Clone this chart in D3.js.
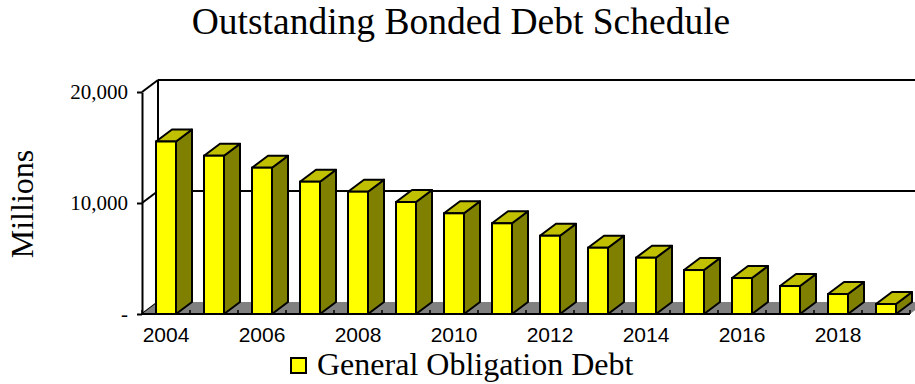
<!DOCTYPE html>
<html>
<head>
<meta charset="utf-8">
<script src="https://cdn.jsdelivr.net/npm/d3@7"></script>
<style>
  body { margin: 0; background: #fff; }
  svg { display: block; overflow: hidden; }
</style>
</head>
<body>
<svg id="chart" width="915" height="384"></svg>
<script>
const years = ["2004","2005","2006","2007","2008","2009","2010","2011","2012","2013","2014","2015","2016","2017","2018","2019"];
const debt = [15540, 14260, 13180, 11920, 11020, 10090, 9070, 8170, 7050, 5970, 5070, 3960, 3240, 2520, 1800, 900];
const yTicks = [0, 10000, 20000];
const xLabels = ["2004","2006","2008","2010","2012","2014","2016","2018"];

const plotLeft = 142, plotRight = 910, plotTop = 92, plotBottom = 314;
const dx = 16, dy = 12; // depth offset
const serif = "'Times New Roman', 'Liberation Serif', serif";
const sans = "Arial, 'Liberation Sans', sans-serif";

const svg = d3.select("#chart");

const x = d3.scaleBand()
  .domain(years)
  .range([plotLeft, plotRight])
  .paddingInner(28 / 48)
  .paddingOuter(14 / 48);

const y = d3.scaleLinear()
  .domain([0, 20000])
  .range([plotBottom, plotTop]);

// back wall + gridlines
const g = svg.append("g");
yTicks.forEach(t => {
  if (t > 0) {
    g.append("line")
      .attr("x1", plotLeft + dx).attr("x2", plotRight + dx + 20)
      .attr("y1", y(t) - dy).attr("y2", y(t) - dy)
      .attr("stroke", "#000").attr("stroke-width", 2);
  }
  g.append("line")
    .attr("x1", plotLeft).attr("y1", y(t))
    .attr("x2", plotLeft + dx).attr("y2", y(t) - dy)
    .attr("stroke", "#000").attr("stroke-width", 2);
});
g.append("line")
  .attr("x1", plotLeft + dx).attr("x2", plotLeft + dx)
  .attr("y1", y(20000) - dy).attr("y2", y(0) - dy)
  .attr("stroke", "#000").attr("stroke-width", 2);

// floor
g.append("polygon")
  .attr("points", [[plotLeft, plotBottom], [plotRight, plotBottom], [plotRight + dx, plotBottom - dy], [plotLeft + dx, plotBottom - dy]].join(" "))
  .attr("fill", "#808080");

// floor ticks at band boundaries
const step = x.step();
d3.range(years.length + 1).forEach(i => {
  const xx = plotLeft + i * step;
  g.append("line")
    .attr("x1", xx).attr("x2", xx)
    .attr("y1", plotBottom).attr("y2", plotBottom - 4)
    .attr("stroke", "#000").attr("stroke-width", 1.5);
});

// bars
const bw = x.bandwidth();
const bars = svg.append("g").selectAll("g")
  .data(years.map((yr, i) => ({ yr, v: debt[i] })))
  .join("g");

bars.append("polygon") // side
  .attr("points", d => {
    const x0 = x(d.yr), yt = y(d.v);
    return [[x0 + bw, yt], [x0 + bw + dx, yt - dy], [x0 + bw + dx, plotBottom - dy], [x0 + bw, plotBottom]].join(" ");
  })
  .attr("fill", "#808000").attr("stroke", "#000").attr("stroke-width", 2).attr("stroke-linejoin", "round");

bars.append("polygon") // top
  .attr("points", d => {
    const x0 = x(d.yr), yt = y(d.v);
    return [[x0, yt], [x0 + dx, yt - dy], [x0 + bw + dx, yt - dy], [x0 + bw, yt]].join(" ");
  })
  .attr("fill", "#c0c000").attr("stroke", "#000").attr("stroke-width", 2).attr("stroke-linejoin", "round");

bars.append("rect") // front
  .attr("x", d => x(d.yr))
  .attr("y", d => y(d.v))
  .attr("width", bw)
  .attr("height", d => plotBottom - y(d.v))
  .attr("fill", "#ffff00").attr("stroke", "#000").attr("stroke-width", 2);

// front baseline
svg.append("line")
  .attr("x1", plotLeft).attr("x2", plotRight)
  .attr("y1", plotBottom).attr("y2", plotBottom)
  .attr("stroke", "#000").attr("stroke-width", 2);

// y axis
const yAxis = svg.append("g")
  .attr("transform", `translate(${plotLeft},0)`)
  .call(d3.axisLeft(y)
    .tickValues(yTicks)
    .tickSize(5)
    .tickSizeOuter(0)
    .tickPadding(9)
    .tickFormat(d => d === 0 ? "-" : d3.format(",")(d)));
yAxis.select(".domain").attr("stroke-width", 2);
yAxis.selectAll(".tick line").attr("stroke-width", 2);
yAxis.selectAll("text")
  .attr("font-family", serif).attr("font-size", 21).attr("fill", "#000");

// x axis
const xAxis = svg.append("g")
  .attr("transform", `translate(0,${plotBottom})`)
  .call(d3.axisBottom(x).tickValues(xLabels).tickSize(0).tickPadding(13));
xAxis.select(".domain").remove();
xAxis.selectAll("text")
  .attr("font-family", sans).attr("font-size", 21).attr("fill", "#000");

// title
svg.append("text")
  .attr("x", 461).attr("y", 34)
  .attr("text-anchor", "middle")
  .attr("font-family", serif).attr("font-size", 37.5)
  .text("Outstanding Bonded Debt Schedule");

// y label
svg.append("text")
  .attr("transform", "translate(33,204) rotate(-90)")
  .attr("text-anchor", "middle")
  .attr("font-family", serif).attr("font-size", 32)
  .text("Millions");

// legend
svg.append("rect")
  .attr("x", 291).attr("y", 358).attr("width", 15).attr("height", 15)
  .attr("fill", "#ffff00").attr("stroke", "#000").attr("stroke-width", 2);
svg.append("text")
  .attr("x", 317).attr("y", 375)
  .attr("font-family", serif).attr("font-size", 32)
  .text("General Obligation Debt");
</script>
</body>
</html>
